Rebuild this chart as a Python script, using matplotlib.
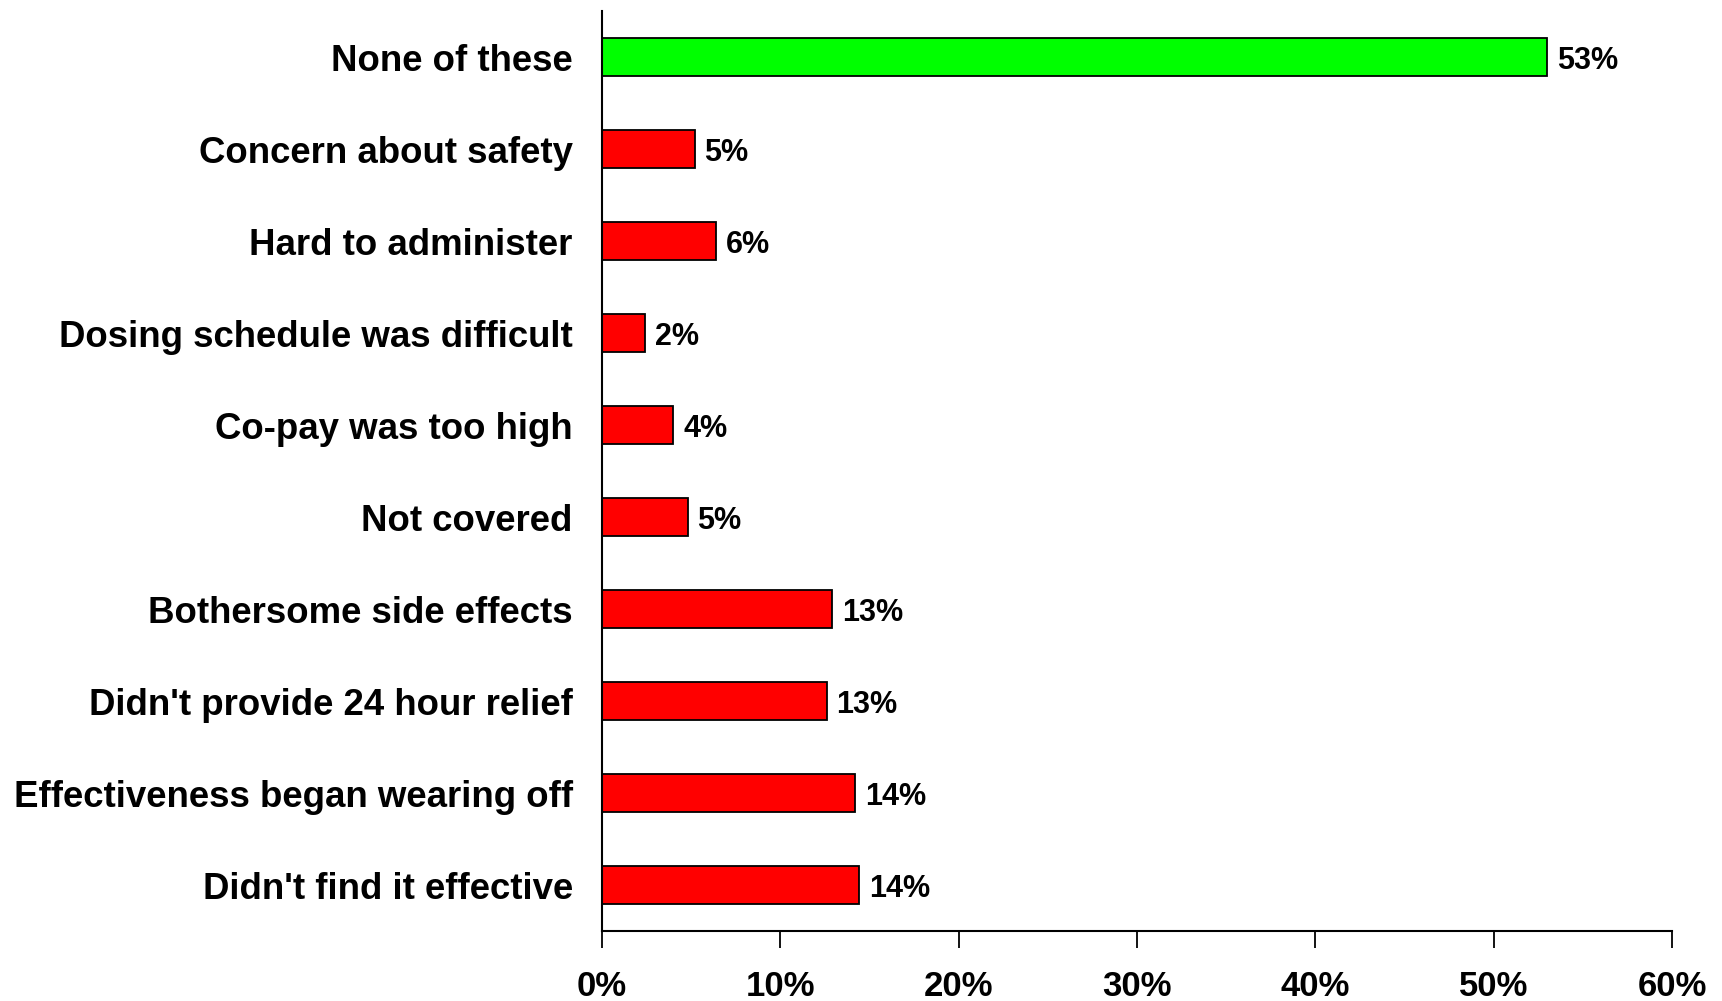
import matplotlib
matplotlib.use("Agg")
import matplotlib.pyplot as plt
import numpy as np

# categories top to bottom
categories = ["None of these",
              "Concern about safety",
              "Hard to administer",
              "Dosing schedule was difficult",
              "Co-pay was too high",
              "Not covered",
              "Bothersome side effects",
              "Didn't provide 24 hour relief",
              "Effectiveness began wearing off",
              "Didn't find it effective"]
values = [53.0, 5.2, 6.4, 2.4, 4.0, 4.8, 12.9, 12.6, 14.2, 14.4]
bar_colors = ["#00FF00"] + ["#FF0000"] * 9
xticks = [0, 10, 20, 30, 40, 50, 60]

plt.rcParams['font.family'] = ['Liberation Sans', 'DejaVu Sans']
plt.rcParams['font.weight'] = 'bold'

fig = plt.figure(figsize=(17.22, 10.01), dpi=100)
ax = fig.add_axes([0.3496, 0.0699, 0.971 - 0.3496, 0.989 - 0.0699])

y = np.arange(len(categories))
ax.barh(y, values, height=0.41, color=bar_colors, edgecolor='black', linewidth=1.3)

# value labels right of each bar
for yi, v in zip(y, values):
    ax.text(v + 0.55, yi, '{}%'.format(int(round(v))), va='center_baseline', ha='left',
            fontsize=22, fontweight='bold')

ax.set_ylim(len(categories) - 0.5, -0.5)
ax.set_xlim(0, 60)
ax.set_yticks(y)
ax.set_yticklabels(categories, fontsize=26.4, fontweight='bold')
ax.set_xticks(xticks)
ax.set_xticklabels(['{}%'.format(t) for t in xticks], fontsize=25, fontweight='bold')

ax.tick_params(axis='y', length=0, pad=21)
ax.tick_params(axis='x', length=12, width=1.3, direction='out', pad=16)

for s in ['top', 'right']:
    ax.spines[s].set_visible(False)
for s in ['left', 'bottom']:
    ax.spines[s].set_linewidth(1.5)
    ax.spines[s].set_color('black')

fig.savefig('out.png', dpi=100)
